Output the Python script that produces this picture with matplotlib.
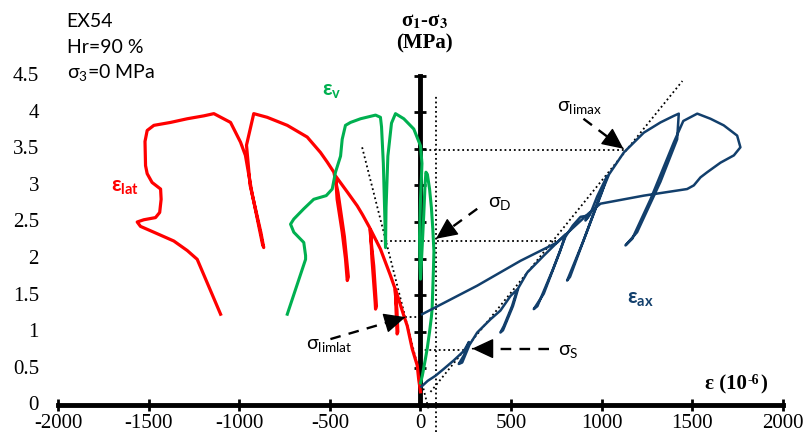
import matplotlib.pyplot as plt

plt.rcParams['mathtext.fontset'] = 'custom'
plt.rcParams['mathtext.rm'] = 'Lato'
plt.rcParams['mathtext.bf'] = 'Lato:bold'
plt.rcParams['mathtext.it'] = 'Lato:italic'

SANS = ['Lato', 'Noto Sans', 'DejaVu Sans']
SERIF = ['Liberation Serif', 'DejaVu Serif']

RED = '#FF0000'
GREEN = '#00B050'
NAVY = '#123F6C'

# axial strain (10^-6) vs deviatoric stress (MPa)
eps_ax = [5, 40, 83, 127, 184, 240, 267, 240, 211, 230, 270, 313, 386, 441, 497, 534,
          505, 460, 441, 455, 510, 540, 589, 680, 754, 800, 770, 680, 625, 645, 730,
          800, 840, 883, 929, 910, 935, 975, 1030, 1000, 900, 809, 825, 900, 990, 1040,
          1122, 1232, 1324, 1398, 1425, 1416, 1324, 1195, 1131, 1168, 1269, 1398, 1450,
          1527, 1600, 1673, 1747, 1765, 1729, 1655, 1582, 1545, 1508, 1471, 1232, 993,
          929, 754, 552, 313, 9]
sig_ax = [0.25, 0.33, 0.40, 0.49, 0.61, 0.74, 0.86, 0.68, 0.56, 0.58, 0.82, 0.99, 1.17,
          1.29, 1.49, 1.58, 1.35, 1.08, 0.99, 1.02, 1.35, 1.60, 1.81, 2.04, 2.22, 2.33,
          2.10, 1.52, 1.31, 1.35, 1.85, 2.30, 2.45, 2.57, 2.59, 2.52, 2.60, 2.85, 3.13,
          2.90, 2.25, 1.70, 1.75, 2.25, 2.85, 3.15, 3.45, 3.72, 3.86, 3.95, 3.98, 3.63,
          3.05, 2.36, 2.18, 2.27, 2.81, 3.59, 3.88, 3.98, 3.91, 3.82, 3.68, 3.52, 3.41,
          3.31, 3.18, 3.11, 3.00, 2.95, 2.86, 2.75, 2.62, 2.22, 1.97, 1.63, 1.24]

# lateral strain
eps_lat = [0, -10, -18, -46, -73, -92, -115, -138, -135, -129, -125, -130, -142, -166,
           -221, -276, -268, -250, -248, -243, -258, -280, -320, -349, -404, -469, -460,
           -432, -414, -404, -398, -420, -455, -478, -515, -552, -625, -735, -846, -920,
           -960, -940, -880, -865, -872, -930, -966, -993, -1048, -1140, -1195, -1287,
           -1379, -1471, -1508, -1520, -1517, -1508, -1481, -1434, -1431, -1439, -1462,
           -1527, -1563, -1545, -1471, -1361, -1287, -1232, -1103]
sig_lat = [0.18, 0.35, 0.54, 0.77, 1.08, 1.22, 1.40, 1.58, 1.30, 0.97, 1.00, 1.30, 1.60,
           1.77, 2.13, 2.40, 2.00, 1.40, 1.31, 1.35, 1.90, 2.42, 2.60, 2.72, 2.91, 3.13,
           2.81, 2.36, 2.00, 1.70, 1.75, 2.30, 2.90, 3.18, 3.32, 3.45, 3.66, 3.82, 3.93,
           3.98, 3.55, 3.00, 2.35, 2.15, 2.20, 2.90, 3.41, 3.59, 3.86, 3.98, 3.95, 3.91,
           3.86, 3.82, 3.75, 3.60, 3.27, 3.16, 3.04, 2.95, 2.81, 2.63, 2.56, 2.53, 2.50,
           2.44, 2.36, 2.24, 2.11, 1.99, 1.24]

# volumetric strain
eps_v = [0, 10, 25, 37, 50, 60, 64, 68, 72, 74, 68, 60, 50, 38, 30, 25, 18, 8, 0, -3,
         -5, 0, 5, 8, 0, -37, -92, -138, -160, -180, -190, -193, -196, -205, -215, -221,
         -248, -331, -386, -414, -432, -441, -469, -487, -520, -589, -644, -699, -717,
         -699, -644, -634, -634, -735]
sig_v = [0.30, 0.40, 0.60, 0.77, 1.00, 1.20, 1.31, 1.60, 1.90, 2.10, 2.40, 2.70, 2.95,
         3.15, 3.18, 3.00, 2.60, 2.10, 1.72, 1.90, 2.30, 2.80, 3.10, 3.30, 3.54, 3.77,
         3.91, 3.98, 3.85, 3.40, 2.70, 2.15, 2.50, 3.30, 3.80, 3.93, 3.96, 3.91, 3.86,
         3.82, 3.63, 3.40, 3.18, 2.95, 2.86, 2.81, 2.68, 2.54, 2.47, 2.36, 2.22, 2.04,
         1.99, 1.24]

x_ticks = [-2000, -1500, -1000, -500, 0, 500, 1000, 1500, 2000]
y_ticks = [0, 0.5, 1, 1.5, 2, 2.5, 3, 3.5, 4, 4.5]
y_tick_labels = ['0', '0.5', '1', '1.5', '2', '2.5', '3', '3.5', '4', '4.5']

# characteristic stresses
sig_limax = 3.48
sig_D = 2.245
sig_limlat = 1.20
sig_S = 0.755

fig = plt.figure(figsize=(8.05, 4.39), dpi=100)
fig.patch.set_facecolor('white')
ax = fig.add_axes([0, 0, 1, 1])
ax.set_xlim(-2320, 2121.4)
ax.set_ylim(-0.451, 5.546)

for s in ['top', 'right']:
    ax.spines[s].set_visible(False)
ax.spines['left'].set_position(('data', 0))
ax.spines['left'].set_bounds(0, 4.5)
ax.spines['bottom'].set_position(('data', 0))
ax.spines['bottom'].set_bounds(-2000, 2000)
ax.spines['left'].set_linewidth(3.5)
ax.spines['bottom'].set_linewidth(3.5)

ax.set_xticks(x_ticks)
ax.set_xticklabels([str(v) for v in x_ticks])
for lbl in ax.get_xticklabels():
    lbl.set_fontfamily(SERIF)
ax.tick_params(axis='x', direction='inout', length=9, width=2, pad=1, labelsize=15)
ax.set_yticks(y_ticks)
ax.tick_params(axis='y', direction='inout', length=9, width=2, labelleft=False)
for v, t in zip(y_ticks, y_tick_labels):
    ax.text(-2105, v, t, ha='right', va='center', fontsize=15, fontfamily=SERIF)

# curves
ax.plot(eps_lat, sig_lat, color=RED, lw=2.3, zorder=3, solid_joinstyle='round')
ax.plot(eps_v, sig_v, color=GREEN, lw=2.2, zorder=3, solid_joinstyle='round')
ax.plot(eps_ax, sig_ax, color=NAVY, lw=1.8, zorder=3, solid_joinstyle='round')

# construction lines
dot = dict(color='black', lw=1.3, linestyle=(0, (1, 1.6)), zorder=2)
ax.plot([55, 1445], [0.178, 4.426], **dot)
ax.plot([-322, 44], [3.52, -0.05], **dot)
ax.plot([85, 85], [-0.37, 4.23], **dot)
ax.plot([0, 1130], [sig_limax, sig_limax], **dot)
ax.plot([-248, 745], [sig_D, sig_D], **dot)
ax.plot([-83, 0], [sig_limlat, sig_limlat], **dot)
ax.plot([0, 258], [sig_S, sig_S], **dot)


def dashed_arrow(x0, y0, x1, y1):
    # dashed shaft stopping under the head, then a filled head at the tip
    xm = x0 + (x1 - x0) * 0.9
    ym = y0 + (y1 - y0) * 0.9
    ax.plot([x0, xm], [y0, ym], color='black', lw=1.7, linestyle=(0, (4.5, 3.5)),
            zorder=4)
    ax.annotate('', xy=(x1, y1), xytext=(x1 - (x1 - x0) * 0.01, y1 - (y1 - y0) * 0.01),
                arrowprops=dict(arrowstyle='-|>,head_length=0.9,head_width=0.42',
                                lw=1, color='black', shrinkA=0, shrinkB=0,
                                mutation_scale=15), zorder=4)


dashed_arrow(899, 3.91, 1120, 3.50)
dashed_arrow(313, 2.68, 85, 2.27)
dashed_arrow(-497, 0.90, -83, 1.20)
dashed_arrow(708, 0.77, 285, 0.77)

ax.text(752, 4.08, 'σ$_\\mathrm{limax}$', fontsize=14, fontfamily=SANS, va='center')
ax.text(370, 2.76, 'σ$_\\mathrm{D}$', fontsize=14, fontfamily=SANS, va='center')
ax.text(-634, 0.83, 'σ$_\\mathrm{limlat}$', fontsize=14, fontfamily=SANS, va='center')
ax.text(761, 0.74, 'σ$_\\mathrm{S}$', fontsize=14, fontfamily=SANS, va='center')

ax.text(-1710, 2.99, 'ε$_\\mathbf{lat}$', fontsize=15, fontweight='bold', color=RED,
        fontfamily=SANS, va='center')
ax.text(-541, 4.30, 'ε$_\\mathbf{v}$', fontsize=15, fontweight='bold', color=GREEN,
        fontfamily=SANS, va='center')
ax.text(1142, 1.46, 'ε$_\\mathbf{ax}$', fontsize=15, fontweight='bold', color=NAVY,
        fontfamily=SANS, va='center')

ax.text(-1953, 5.25, 'EX54', fontsize=14, fontfamily=SANS, va='center')
ax.text(-1953, 4.90, 'Hr=90 %', fontsize=14, fontfamily=SANS, va='center')
ax.text(-1953, 4.55, 'σ$_\\mathrm{3}$=0 MPa', fontsize=14, fontfamily=SANS, va='center')

ax.text(22, 5.25, 'σ$_\\mathbf{1}$-σ$_\\mathbf{3}$', fontsize=15, fontweight='bold',
        fontfamily=SERIF, math_fontfamily='stix', ha='center', va='center')
ax.text(22, 4.95, '(MPa)', fontsize=15, fontweight='bold', fontfamily=SERIF,
        ha='center', va='center')

# x-axis unit label: "ε (10" + raised "-6" + ")"
t1 = ax.text(1572, 0.22, 'ε (10', fontsize=15, fontweight='bold', fontfamily=SERIF,
             va='baseline')
t2 = ax.annotate('-6', xy=(1, 0), xycoords=t1, xytext=(0.5, 8),
                 textcoords='offset points', fontsize=10, fontweight='bold',
                 fontfamily=SERIF, va='baseline')
ax.annotate(')', xy=(1, 0), xycoords=(t2, t1), xytext=(0.5, 0),
            textcoords='offset points', fontsize=15, fontweight='bold',
            fontfamily=SERIF, va='bottom')

fig.savefig('out.png', dpi=100)
